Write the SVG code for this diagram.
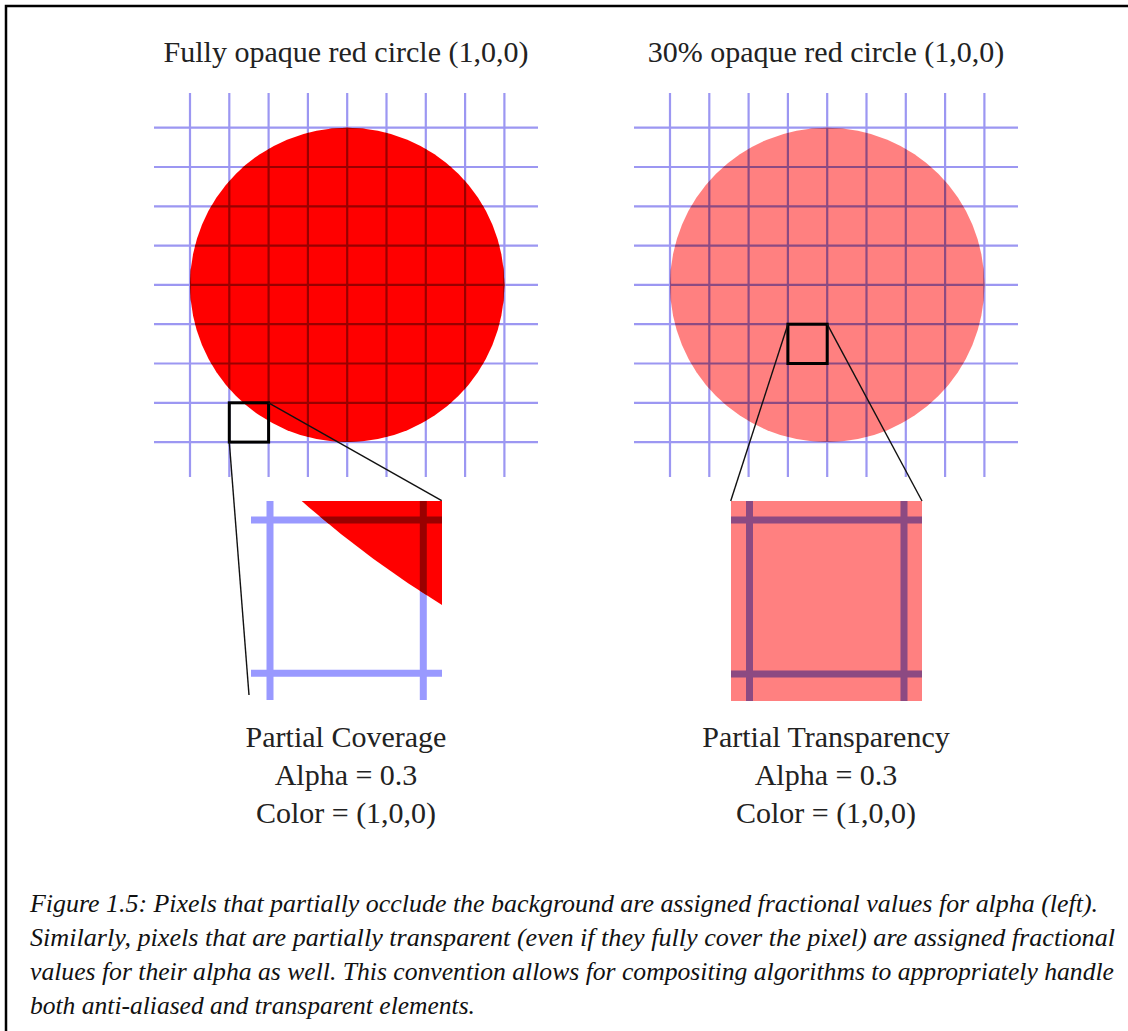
<svg xmlns="http://www.w3.org/2000/svg" width="1128" height="1031" viewBox="0 0 1128 1031">
  <style>
    .t { font-family: "Liberation Serif", "Times New Roman", serif; font-size: 30px; fill: #222; text-anchor: middle; }
    .cap { font-family: "Liberation Serif", "Times New Roman", serif; font-size: 26px; font-style: italic; fill: #111; }
    .grid { stroke: #9c97f2; stroke-width: 2.2; fill: none; }
    .gridR { stroke: #990000; stroke-width: 2.2; fill: none; }
    .gridP { stroke: #8c4a82; stroke-width: 2.2; fill: none; }
    .box { fill: none; stroke: #000; stroke-width: 3; }
    .conn { stroke: #111; stroke-width: 1.4; fill: none; }
    .thick { stroke-width: 7; fill: none; }
  </style>
  <defs>
    <g id="gridlines">
      <path d="M190,93V477M229.3,93V477M268.6,93V477M307.9,93V477M347.2,93V477M386.5,93V477M425.8,93V477M465.1,93V477M504.4,93V477"/>
      <path d="M154,127.7H538M154,167H538M154,206.3H538M154,245.6H538M154,284.9H538M154,324.2H538M154,363.5H538M154,402.8H538M154,442.1H538"/>
    </g>
    <clipPath id="circClip"><circle cx="347.2" cy="284.9" r="157.2"/></clipPath>
    <clipPath id="wedgeClip"><path d="M301.7,501 L442,501 L442,605 A 1000 1000 0 0 1 301.7,501 Z"/></clipPath>
  </defs>
  <rect width="1128" height="1031" fill="#fff"/>
  <rect id="frame" x="6" y="6" width="1140" height="1040" fill="none" stroke="#000" stroke-width="2.5"/>

  <g id="left-panel">
    <text class="t" x="346" y="62">Fully opaque red circle (1,0,0)</text>
    <g id="left-grid">
      <use href="#gridlines" class="grid"/>
      <circle cx="347.2" cy="284.9" r="157.2" fill="#ff0000"/>
      <use href="#gridlines" class="gridR" clip-path="url(#circClip)"/>
    </g>
    <rect id="left-box" class="box" x="229.3" y="402.8" width="39.3" height="39.3"/>
  </g>

  <g id="right-panel">
    <text class="t" x="826" y="62">30% opaque red circle (1,0,0)</text>
    <g id="right-grid" transform="translate(480,0)">
      <use href="#gridlines" class="grid"/>
      <circle cx="347.2" cy="284.9" r="157.2" fill="#ff8080"/>
      <use href="#gridlines" class="gridP" clip-path="url(#circClip)"/>
    </g>
    <rect id="right-box" class="box" x="787.9" y="324.2" width="39.3" height="39.3"/>
  </g>

  <g id="left-zoom">
    <path class="thick" stroke="#9999ff" d="M270,501V700M423.3,501V700M251,520H442M251,673.3H442"/>
    <path fill="#ff0000" d="M301.7,501 L442,501 L442,605 A 1000 1000 0 0 1 301.7,501 Z"/>
    <path class="thick" stroke="#990000" clip-path="url(#wedgeClip)" d="M270,501V700M423.3,501V700M251,520H442M251,673.3H442"/>
  </g>

  <g id="right-zoom">
    <rect x="731" y="501" width="191" height="200" fill="#ff8080"/>
    <path class="thick" stroke="#8c4a82" d="M749.5,501V701M904,501V701M731,520H922M731,674H922"/>
  </g>

  <g id="connectors">
    <line class="conn" x1="229.3" y1="442.1" x2="249" y2="695"/>
    <line class="conn" x1="268.6" y1="402.8" x2="441.7" y2="500.7"/>
    <line class="conn" x1="787.9" y1="324.2" x2="730.7" y2="501"/>
    <line class="conn" x1="827.2" y1="324.2" x2="922" y2="501"/>
  </g>

  <g id="left-label">
    <text class="t" x="346" y="747">Partial Coverage</text>
    <text class="t" x="346" y="785">Alpha = 0.3</text>
    <text class="t" x="346" y="823">Color = (1,0,0)</text>
  </g>
  <g id="right-label">
    <text class="t" x="826" y="747">Partial Transparency</text>
    <text class="t" x="826" y="785">Alpha = 0.3</text>
    <text class="t" x="826" y="823">Color = (1,0,0)</text>
  </g>

  <g id="caption">
    <text class="cap" x="30" y="912" textLength="1068" lengthAdjust="spacingAndGlyphs">Figure 1.5: Pixels that partially occlude the background are assigned fractional values for alpha (left).</text>
    <text class="cap" x="30" y="946" textLength="1085" lengthAdjust="spacingAndGlyphs">Similarly, pixels that are partially transparent (even if they fully cover the pixel) are assigned fractional</text>
    <text class="cap" x="30" y="980" textLength="1084" lengthAdjust="spacingAndGlyphs">values for their alpha as well. This convention allows for compositing algorithms to appropriately handle</text>
    <text class="cap" x="30" y="1014" textLength="445" lengthAdjust="spacingAndGlyphs">both anti-aliased and transparent elements.</text>
  </g>
</svg>
